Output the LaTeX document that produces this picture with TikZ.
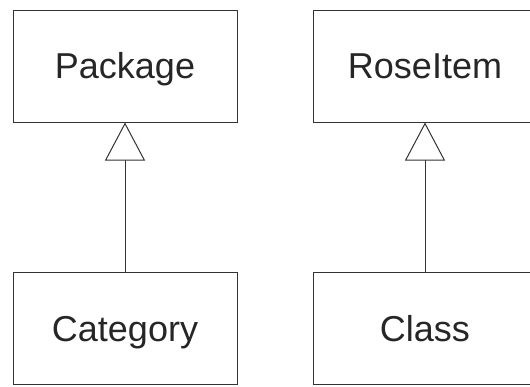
\documentclass[tikz,border=0pt]{standalone}
\usepackage{fontspec}
\setmainfont{Liberation Sans}
\usetikzlibrary{arrows.meta}
\definecolor{umlline}{HTML}{333333}
\tikzset{
    classbox/.style={draw=umlline, line width=1pt, minimum width=224pt, minimum height=112pt, inner sep=0pt, text height=25.8pt, text depth=0pt, text=black!85, font=\fontsize{36}{40}\selectfont},
    inherits/.style={draw=umlline, line width=1pt, -{Triangle[open, length=38pt, width=40pt, fill=white]}}
}
\begin{document}
\begin{tikzpicture}[x=1pt, y=-1pt]
    \useasboundingbox (0,0) rectangle (530,386);
    \node[classbox] (package)  at (125,66)  {Package};
    \node[classbox] (roseitem) at (425,66)  {RoseItem};
    \node[classbox] (category) at (125,328.5) {Category};
    \node[classbox] (class)    at (425,328.5) {Class};
    \draw[inherits] (category.north) -- (package.south);
    \draw[inherits] (class.north) -- (roseitem.south);
\end{tikzpicture}
\end{document}
